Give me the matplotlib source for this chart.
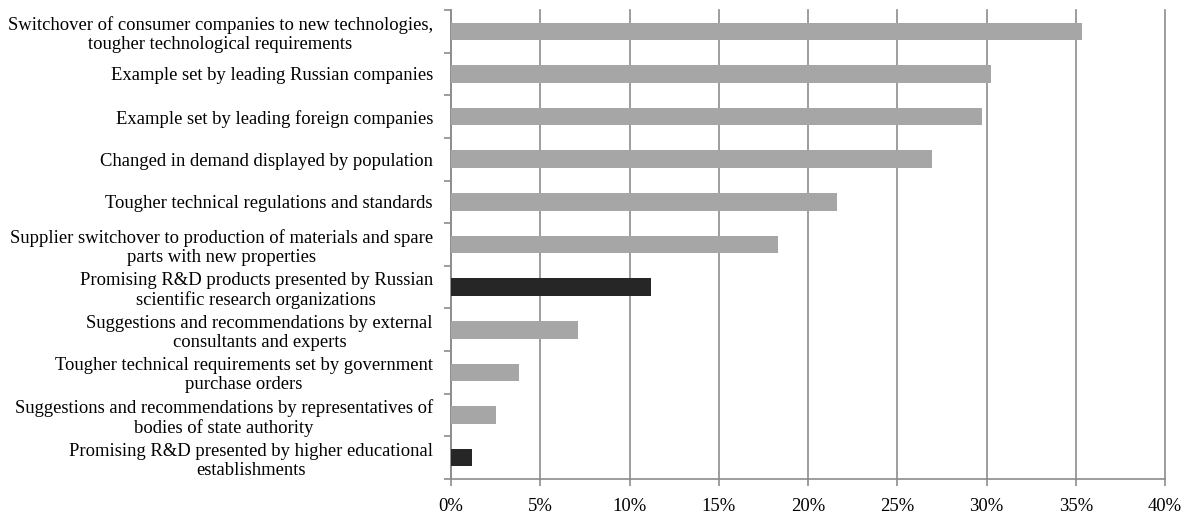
import matplotlib
matplotlib.use("Agg")
import matplotlib.pyplot as plt
import numpy as np
from matplotlib.ticker import FixedLocator, PercentFormatter

categories = [
    "Switchover of consumer companies to new technologies,\ntougher technological requirements",
    "Example set by leading Russian companies",
    "Example set by leading foreign companies",
    "Changed in demand displayed by population",
    "Tougher technical regulations and standards",
    "Supplier switchover to production of materials and spare\nparts with new properties",
    "Promising R&D products presented by Russian\nscientific research organizations",
    "Suggestions and recommendations by external\nconsultants and experts",
    "Tougher technical requirements set by government\npurchase orders",
    "Suggestions and recommendations by representatives of\nbodies of state authority",
    "Promising R&D presented by higher educational\nestablishments",
]
values = [35.35, 30.25, 29.75, 26.95, 21.6, 18.3, 11.2, 7.1, 3.8, 2.5, 1.2]
highlight = [False, False, False, False, False, False, True, False, False, False, True]
x_ticks = [0, 5, 10, 15, 20, 25, 30, 35, 40]

plt.rcParams['font.family'] = ['Liberation Serif', 'DejaVu Serif']

W, H = 1189, 515
fig = plt.figure(figsize=(W/100, H/100), dpi=100)
left, right, top, bottom = 451, 1165, 10, 479
ax = fig.add_axes([left/W, 1 - bottom/H, (right-left)/W, (bottom-top)/H])

n = len(categories)
y = np.arange(n)
colors = ['#262626' if h else '#A6A6A6' for h in highlight]
ax.barh(y, values, height=0.41, color=colors, edgecolor='none', zorder=3)

ax.set_xlim(0, 40)
ax.set_ylim(n - 0.5, -0.5)
ax.set_xticks(x_ticks)
ax.xaxis.set_major_formatter(PercentFormatter(decimals=0))
ax.grid(axis='x', color='#8C8C8C', linewidth=1.2, zorder=0)
for gl in ax.get_xgridlines():
    gl.set_clip_on(False)
ax.set_axisbelow(True)

ax.set_yticks(y)
ax.set_yticklabels(categories, fontsize=13.4, ha='right', multialignment='center', linespacing=1.15)
ax.tick_params(axis='y', which='major', length=0, pad=13)
ax.yaxis.set_minor_locator(FixedLocator(np.arange(-0.5, n, 1.0)))
ax.tick_params(axis='y', which='minor', length=5, color='#8C8C8C', width=1.2)
ax.tick_params(axis='x', which='major', length=5, color='#8C8C8C', width=1.2, labelsize=13.4, pad=9)

for s in ['top', 'right']:
    ax.spines[s].set_visible(False)
for s in ['left', 'bottom']:
    ax.spines[s].set_color('#8C8C8C')
    ax.spines[s].set_linewidth(1.2)

fig.savefig('out.png', dpi=100)
